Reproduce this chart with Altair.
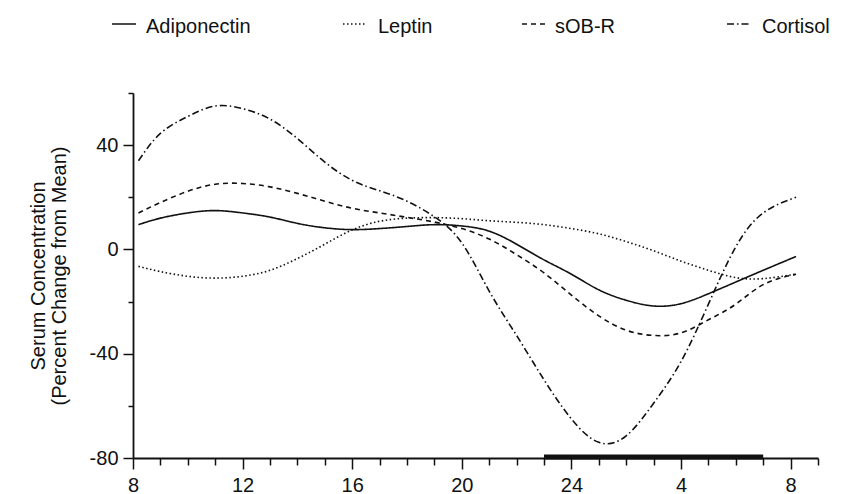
import altair as alt
import pandas as pd

# ---- data ----
series = ["Adiponectin", "Leptin", "sOB-R", "Cortisol"]
hours = [8.2, 9, 10, 11, 12, 13, 14, 15, 16, 17, 18, 19, 20, 21, 22, 23, 24,
         25, 26, 27, 28, 29, 30, 31, 32.2]
adiponectin = [9.5, 12, 14, 14.9, 14, 12.4, 10, 8.3, 7.6, 8, 8.8, 9.5, 9, 7, 2,
               -4, -9.5, -15.5, -19.5, -21.7, -20.8, -17, -12.5, -8, -2.7]
leptin = [-6.5, -8.5, -10.3, -11, -10.3, -8, -3.5, 2, 7.5, 10.8, 12, 12.2, 11.8,
          11, 10.4, 9.5, 8, 6, 3, -0.5, -4.5, -8, -10.8, -11.2, -9.5]
sobr = [14, 18, 22.3, 25, 25.3, 24, 21.5, 18.5, 15.8, 14, 12.3, 10.5, 8, 4, -2,
        -9, -17.5, -25.5, -31, -33, -32, -27, -21, -13.5, -9.5]
cortisol = [34, 44.5, 51, 55, 54, 50, 42.5, 33.5, 26.5, 22.5, 18.5, 12.5, 2.5, -16,
            -33, -50, -65, -74, -71.5, -59, -43, -21, 1, 14, 20]
sleep_start = [23]
sleep_end = [31]
x_major = [8, 12, 16, 20, 24, 28, 32]
x_minor = [h for h in range(8, 34) if h not in x_major]
y_major = [-80, -40, 0, 40]
y_minor = [-60, -20, 20, 60]

values = {"Adiponectin": adiponectin, "Leptin": leptin, "sOB-R": sobr, "Cortisol": cortisol}
rows = []
for s in series:
    for h, v in zip(hours, values[s]):
        rows.append({"hour": h, "value": v, "series": s})
df = pd.DataFrame(rows)

# ---- style ----
FONT = "Liberation Sans, Arial, Helvetica, sans-serif"
INK = "#111111"
dashes = [[1, 0], [1.5, 2.5], [5, 4], [7, 3, 1.5, 3]]
W, H = 685, 365

x_scale = alt.Scale(domain=[8, 33], nice=False, zero=False)
y_scale = alt.Scale(domain=[-80, 60], nice=False, zero=False)

x_axis = alt.Axis(
    orient="bottom",
    values=x_major,
    title=None,
    labelExpr="'' + (datum.value > 24 ? datum.value - 24 : datum.value)",
    tickSize=11,
    labelPadding=6,
    labelFlush=False,
    labelOverlap=False,
    grid=False,
)
y_axis = alt.Axis(
    orient="left",
    values=y_major,
    title=["Serum Concentration", "(Percent Change from Mean)"],
    labelExpr="'' + datum.value",
    tickSize=10,
    labelPadding=5,
    titlePadding=20,
    labelFlush=False,
    labelOverlap=False,
    grid=False,
)
x_axis_minor = alt.Axis(orient="bottom", values=x_minor, title=None, labels=False,
                        domain=False, tickSize=7, grid=False)
y_axis_minor = alt.Axis(orient="left", values=y_minor, title=None, labels=False,
                        domain=False, tickSize=5, grid=False)

lines = alt.Chart(df).mark_line(interpolate="natural", color=INK, strokeWidth=1.6).encode(
    x=alt.X("hour:Q", scale=x_scale, axis=x_axis),
    y=alt.Y("value:Q", scale=y_scale, axis=y_axis),
    strokeDash=alt.StrokeDash("series:N", scale=alt.Scale(domain=series, range=dashes), legend=None),
)

minor = alt.Chart(df).mark_point(opacity=0).encode(
    x=alt.X("hour:Q", scale=x_scale, axis=x_axis_minor),
    y=alt.Y("value:Q", scale=y_scale, axis=y_axis_minor),
)

sleep = alt.Chart(pd.DataFrame({"start": sleep_start, "end": sleep_end})).mark_rule(
    color=INK, strokeWidth=5, yOffset=-1
).encode(
    x=alt.X("start:Q", scale=x_scale, axis=None),
    x2="end:Q",
    y=alt.YDatum(-80, type="quantitative", scale=y_scale, axis=None),
)

# manual legend above the plot
sym_x = [-21, 210, 389, 594]
txt_x = [13, 245, 422, 629]
legend_layers = []
for i, s in enumerate(series):
    ldf = pd.DataFrame({"series": [s]})
    legend_layers.append(
        alt.Chart(ldf).mark_rule(color=INK, strokeWidth=1.6, strokeDash=dashes[i]).encode(
            x=alt.value(sym_x[i]), x2=alt.value(sym_x[i] + 24), y=alt.value(-69)
        )
    )
    legend_layers.append(
        alt.Chart(ldf).mark_text(align="left", baseline="alphabetic", font=FONT,
                                 fontSize=20, color=INK).encode(
            x=alt.value(txt_x[i]), y=alt.value(-60), text="series:N"
        )
    )

chart = alt.layer(lines, minor, sleep, *legend_layers).resolve_axis(
    x="independent", y="independent"
).properties(
    width=W,
    height=H,
    padding={"left": 125, "top": 85, "right": 16, "bottom": 36},
    autosize="none",
).configure_view(stroke=None).configure_axis(
    domainColor=INK,
    domainWidth=1.8,
    tickColor=INK,
    tickWidth=1.5,
    labelFont=FONT,
    labelFontSize=20,
    labelColor=INK,
    titleFont=FONT,
    titleFontSize=20,
    titleFontWeight="normal",
    titleColor=INK,
    titleLineHeight=21,
)

chart.save("out.html", embed_options={"renderer": "svg", "actions": False})
